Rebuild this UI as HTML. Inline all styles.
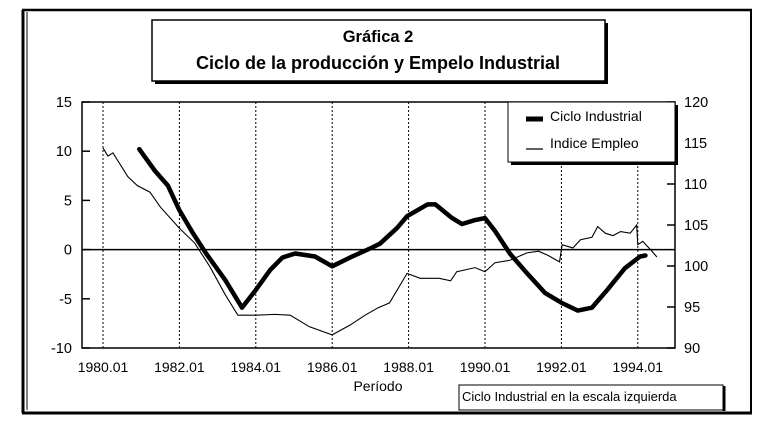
<!DOCTYPE html>
<html><head><meta charset="utf-8"><style>
body{margin:0;background:#fff;width:759px;height:436px;overflow:hidden;font-family:"Liberation Sans",Arial,sans-serif}
</style></head><body>
<svg width="759" height="436" viewBox="0 0 759 436" xmlns="http://www.w3.org/2000/svg">
<g id="frame">
<line x1="22" y1="10" x2="752" y2="10" stroke="#000" stroke-width="2.5"/>
<line x1="23" y1="10" x2="23" y2="413" stroke="#000" stroke-width="3"/>
<line x1="27" y1="12" x2="27" y2="410" stroke="#000" stroke-width="1"/>
<line x1="22" y1="413" x2="752" y2="413" stroke="#000" stroke-width="3"/>
<line x1="751" y1="10" x2="751" y2="413" stroke="#000" stroke-width="2"/>
</g>
<g>
<rect x="155" y="23" width="453" height="61" fill="#000"/>
<rect x="152" y="20" width="453" height="61" fill="#fff" stroke="#000" stroke-width="1.5"/>
<text x="378" y="42" text-anchor="middle" font-weight="bold" font-size="16.5">Gráfica 2</text>
<text x="378" y="69" text-anchor="middle" font-weight="bold" font-size="18">Ciclo de la producción y Empelo Industrial</text>
</g>
<rect x="82" y="102" width="593" height="246" fill="none" stroke="#000" stroke-width="1.5"/>
<g id="grid"></g>
<g id="axes"></g>
<g id="series"></g>
<g>
<rect x="511" y="105" width="167" height="60" fill="#000"/>
<rect x="508" y="102" width="167" height="60" fill="#fff" stroke="#000" stroke-width="1"/>
<line x1="526" y1="119" x2="543" y2="119" stroke="#000" stroke-width="5"/>
<text x="550" y="121" font-size="14">Ciclo Industrial</text>
<line x1="526" y1="149" x2="543" y2="149" stroke="#000" stroke-width="1.2"/>
<text x="550" y="148" font-size="14">Indice Empleo</text>
</g>
<text x="378" y="391" text-anchor="middle" font-size="14">Período</text>
<g>
<rect x="459" y="385" width="264" height="25" fill="#fff" stroke="#000" stroke-width="1"/>
<line x1="724" y1="386" x2="724" y2="411" stroke="#000" stroke-width="3"/>
<text x="462" y="401" font-size="13">Ciclo Industrial en la escala izquierda</text>
</g>
</svg>
<script>
const xTicks = [1980, 1982, 1984, 1986, 1988, 1990, 1992, 1994];
const xTickLabels = ["1980.01","1982.01","1984.01","1986.01","1988.01","1990.01","1992.01","1994.01"];
const leftTicks = [15, 10, 5, 0, -5, -10];
const rightTicks = [120, 115, 110, 105, 100, 95, 90];
const cicloYears = [1980.95,1981.36,1981.7,1982.0,1982.35,1982.7,1983.2,1983.64,1984.0,1984.37,1984.7,1985.03,1985.55,1986.0,1986.47,1987.04,1987.25,1987.7,1987.96,1988.5,1988.7,1989.14,1989.4,1989.74,1990.0,1990.26,1990.65,1991.1,1991.57,1992.0,1992.43,1992.8,1993.2,1993.66,1994.06,1994.2];
const cicloValues = [10.2,8.0,6.5,4.0,1.7,-0.4,-3.1,-5.9,-4.1,-2.1,-0.8,-0.4,-0.7,-1.7,-0.8,0.2,0.6,2.2,3.4,4.6,4.6,3.2,2.6,3.0,3.2,1.9,-0.4,-2.4,-4.4,-5.4,-6.2,-5.9,-4.1,-1.9,-0.7,-0.6];
const empleoYears = [1980.0,1980.13,1980.26,1980.65,1980.9,1981.23,1981.5,1982.0,1982.4,1982.8,1983.2,1983.53,1984.0,1984.5,1984.9,1985.4,1986.0,1986.47,1986.86,1987.2,1987.5,1987.96,1988.3,1988.8,1989.1,1989.26,1989.74,1990.0,1990.26,1990.65,1991.1,1991.4,1991.65,1991.95,1992.02,1992.3,1992.5,1992.8,1992.95,1993.15,1993.35,1993.55,1993.8,1993.97,1994.0,1994.13,1994.35,1994.5];
const empleoValues = [114.4,113.4,113.8,110.9,109.8,109.0,107.2,104.6,102.8,99.9,96.5,94.0,94.0,94.1,94.0,92.6,91.6,92.8,94.0,94.9,95.5,99.1,98.5,98.5,98.2,99.3,99.8,99.3,100.4,100.7,101.6,101.8,101.3,100.5,102.6,102.2,103.2,103.5,104.8,104.0,103.7,104.2,104.0,105.0,102.6,103.0,101.9,101.1];

const NS = "http://www.w3.org/2000/svg";
const X0 = 82, X1 = 675, Y0 = 102, Y1 = 348;
const x = yr => 103 + (yr - 1980) * 38.2;
const yL = v => Y1 - (v + 10) / 25 * (Y1 - Y0);
const yR = v => Y1 - (v - 90) / 30 * (Y1 - Y0);
function mk(tag, attrs, parent) {
  const e = document.createElementNS(NS, tag);
  for (const k in attrs) e.setAttribute(k, attrs[k]);
  parent.appendChild(e);
  return e;
}
const grid = document.getElementById('grid');
const axes = document.getElementById('axes');
const series = document.getElementById('series');
xTicks.forEach((t, i) => {
  const gl = mk('line', {x1: x(t), x2: x(t), y1: Y0, y2: Y1, stroke: '#000', 'stroke-width': 1, 'stroke-dasharray': '2,2'}, grid);
  
  
  const tx = mk('text', {x: x(t), y: 372, 'text-anchor': 'middle', 'font-size': 14}, axes);
  tx.textContent = xTickLabels[i];
  
  
});
leftTicks.forEach(v => {
  const tk = mk('line', {x1: X0, x2: X0 + 8, y1: yL(v), y2: yL(v), stroke: '#000', 'stroke-width': 1.5}, axes);
  
  
  const tx = mk('text', {x: 72, y: yL(v) + 5, 'text-anchor': 'end', 'font-size': 14.5}, axes);
  tx.textContent = v;
  
  
});
rightTicks.forEach(v => {
  const tk = mk('line', {x1: X1 - 8, x2: X1, y1: yR(v), y2: yR(v), stroke: '#000', 'stroke-width': 1.5}, axes);
  
  
  const tx = mk('text', {x: 684, y: yR(v) + 5, 'font-size': 14.5}, axes);
  tx.textContent = v;
  
  
});
const zl = mk('line', {x1: X0, x2: X1, y1: yL(0), y2: yL(0), stroke: '#000', 'stroke-width': 1.5}, axes);


const pE = mk('polyline', {points: empleoYears.map((t, i) => x(t) + ',' + yR(empleoValues[i])).join(' '), fill: 'none', stroke: '#000', 'stroke-width': 1.1}, series);


const pC = mk('polyline', {points: cicloYears.map((t, i) => x(t) + ',' + yL(cicloValues[i])).join(' '), fill: 'none', stroke: '#000', 'stroke-width': 4.5, 'stroke-linejoin': 'round', 'stroke-linecap': 'round'}, series);


</script>
</body></html>
